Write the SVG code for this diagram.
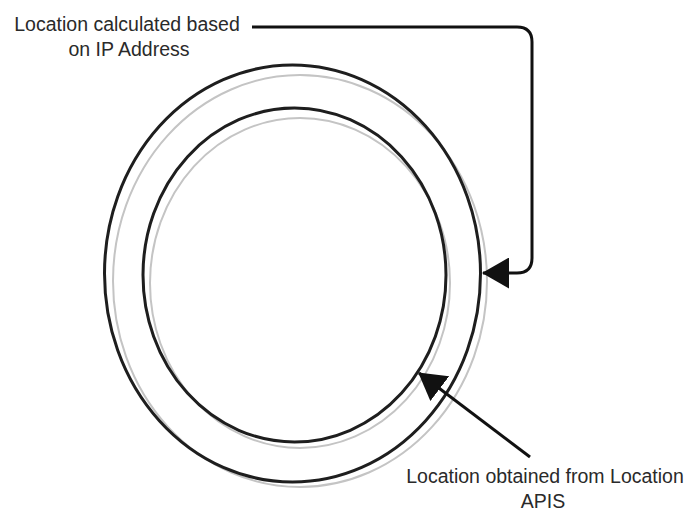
<svg xmlns="http://www.w3.org/2000/svg" width="691" height="515" viewBox="0 0 691 515">
  <style>
    .ring { fill: none; stroke: #1e1e1e; stroke-width: 3; }
    .shadow { fill: none; stroke: #c4c4c4; stroke-width: 2; }
    .conn { fill: none; stroke: #111; stroke-width: 3; }
    .label { font-family: "Liberation Sans", Arial, sans-serif; font-size: 19.5px; fill: #2a2a2a; text-anchor: middle; }
  </style>
  <defs>
    <marker id="arrow" markerUnits="userSpaceOnUse" viewBox="0 0 27 31" markerWidth="27" markerHeight="31" refX="26" refY="15.5" orient="auto">
      <path d="M0,0 L27,15.5 L0,31 Z" fill="#111"/>
    </marker>
  </defs>
  <rect width="691" height="515" fill="#fff"/>

  <g id="outer-ring">
    <ellipse class="shadow" cx="300" cy="281" rx="187" ry="206"/>
    <ellipse class="ring" cx="292.5" cy="273.5" rx="188" ry="208.5"/>
  </g>
  <g id="inner-ring">
    <ellipse class="shadow" cx="300" cy="283" rx="150" ry="165"/>
    <ellipse class="ring" cx="294.5" cy="275" rx="151.5" ry="167"/>
  </g>

  <g id="label-ip">
    <text class="label" x="127" y="31">Location calculated based</text>
    <text class="label" x="129" y="56">on IP Address</text>
  </g>
  <g id="label-api">
    <text class="label" x="545" y="483">Location obtained from Location</text>
    <text class="label" x="543" y="508">APIS</text>
  </g>

  <g id="connectors">
    <path class="conn" d="M252,27 H517 Q532,27 532,42 V258 Q532,273 517,273 H483" marker-end="url(#arrow)"/>
    <path class="conn" d="M530,457 L419,373" marker-end="url(#arrow)"/>
  </g>
</svg>
